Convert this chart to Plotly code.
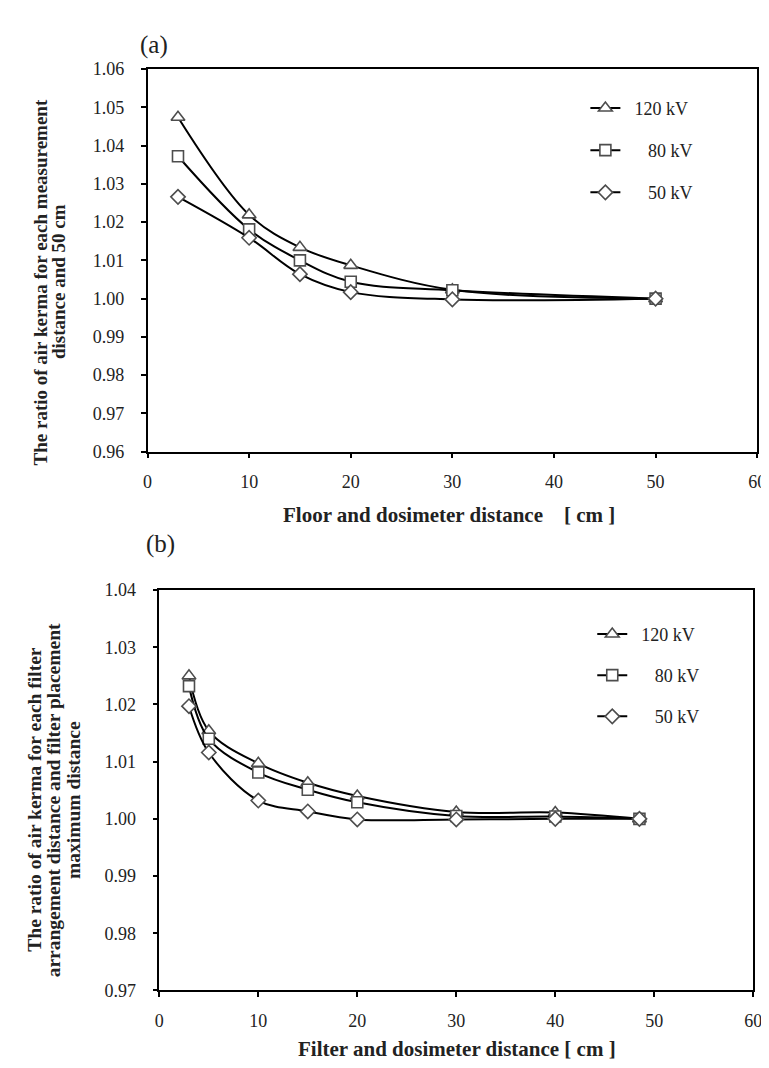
import plotly.graph_objects as go

# ---------------- data ----------------
# (a) floor-dosimeter distance
x_a = [3, 10, 15, 20, 30, 50]
a_120 = [1.0474, 1.0219, 1.0134, 1.0087, 1.0023, 1.0000]
a_80 = [1.0372, 1.0181, 1.0100, 1.0044, 1.0022, 1.0000]
a_50 = [1.0266, 1.0159, 1.0064, 1.0017, 0.9998, 1.0000]

# (b) filter-dosimeter distance
x_b = [3, 5, 10, 15, 20, 30, 40, 48.5]
b_120 = [1.0250, 1.0154, 1.0097, 1.0063, 1.0040, 1.0012, 1.0011, 1.0000]
b_80 = [1.0232, 1.0140, 1.0081, 1.0051, 1.0029, 1.0005, 1.0004, 1.0000]
b_50 = [1.0197, 1.0116, 1.0032, 1.0013, 0.9999, 0.9999, 1.0000, 1.0000]

series_names = ["120 kV", "80 kV", "50 kV"]
legend_labels = ["\u00a0\u00a0120 kV", "\u00a0\u00a0\u00a0\u00a0\u00a080 kV",
                 "\u00a0\u00a0\u00a0\u00a0\u00a050 kV"]
symbols = ["triangle-up", "square", "diamond"]
sizes = [12, 11, 11]

x_ticks = [0, 10, 20, 30, 40, 50, 60]
y_ticks_a = [0.96, 0.97, 0.98, 0.99, 1.00, 1.01, 1.02, 1.03, 1.04, 1.05, 1.06]
y_ticks_b = [0.97, 0.98, 0.99, 1.00, 1.01, 1.02, 1.03, 1.04]

W, H = 769, 1068
FONT = "Liberation Serif"
TXT = "#222222"


def px(x):
    return x / W


def py(y):
    return 1 - y / H


fig = go.Figure()

data_a = [a_120, a_80, a_50]
data_b = [b_120, b_80, b_50]

for i in range(3):
    fig.add_trace(go.Scatter(
        x=x_a, y=data_a[i], name=legend_labels[i], mode="lines+markers",
        line=dict(color="black", width=2, shape="spline", smoothing=1.0),
        marker=dict(symbol=symbols[i], size=sizes[i], color="white",
                    line=dict(color="#4d4d4d", width=1.6)),
        xaxis="x", yaxis="y", legend="legend" if i == 0 else f"legend{i+1}",
        showlegend=True,
    ))

for i in range(3):
    fig.add_trace(go.Scatter(
        x=x_b, y=data_b[i], name=legend_labels[i], mode="lines+markers",
        line=dict(color="black", width=2, shape="spline", smoothing=1.0),
        marker=dict(symbol=symbols[i], size=sizes[i], color="white",
                    line=dict(color="#4d4d4d", width=1.6)),
        xaxis="x2", yaxis="y2", legend=f"legend{i+4}",
        showlegend=True,
    ))

axis_common = dict(
    showline=True, linecolor="black", linewidth=1.5, mirror=True,
    ticks="outside", ticklen=5, tickwidth=1.5, tickcolor="black",
    showgrid=False, zeroline=False,
    tickfont=dict(family=FONT, size=18, color=TXT),
)

legend_common = dict(
    xanchor="left", yanchor="middle", bgcolor="rgba(0,0,0,0)",
    font=dict(family=FONT, size=18, color=TXT),
    borderwidth=0,
)

layout = dict(
    width=W, height=H,
    margin=dict(l=0, r=0, t=0, b=0),
    paper_bgcolor="white", plot_bgcolor="white",
    xaxis=dict(domain=[px(137), px(758)], range=[0, 60], tickvals=x_ticks,
               anchor="y", ticklabelstandoff=8, **axis_common),
    yaxis=dict(domain=[py(442), py(52)], range=[0.96, 1.06], tickvals=y_ticks_a,
               tickformat=".2f", anchor="x", ticklabelstandoff=13, **axis_common),
    xaxis2=dict(domain=[px(149), px(754)], range=[0, 60], tickvals=x_ticks,
                anchor="y2", ticklabelstandoff=8, **axis_common),
    yaxis2=dict(domain=[py(991), py(583)], range=[0.97, 1.04], tickvals=y_ticks_b,
                tickformat=".2f", anchor="x2", ticklabelstandoff=13, **axis_common),
)

top_rows = [92, 135, 178]
bot_rows = [628, 670, 712]
for i in range(3):
    key = "legend" if i == 0 else f"legend{i+1}"
    layout[key] = dict(x=px(583), y=py(top_rows[i]), **legend_common)
    layout[f"legend{i+4}"] = dict(x=px(590), y=py(bot_rows[i]), **legend_common)

fig.update_layout(**layout)


def ann(text, x, y, size, angle=0):
    return dict(text=text, x=px(x), y=py(y), xref="paper", yref="paper",
                xanchor="center", yanchor="middle", showarrow=False,
                textangle=angle, font=dict(family=FONT, size=size, color=TXT))


annotations = []
# panel labels
annotations.append(ann("(a)", 144, 28, 25))
annotations.append(ann("(b)", 150, 536, 25))

# x-axis titles
annotations.append(ann("<b>Floor and dosimeter distance \u00a0\u00a0 [ cm ]</b>", 444, 506, 21))
annotations.append(ann("<b>Filter and dosimeter distance [ cm ]</b>", 452, 1051, 21))

# y-axis titles (rotated), one annotation per line
ytitle_a = ["The ratio of air kerma for each measurement", "distance and 50 cm"]
ytitle_a_x = [28, 47]
for t, xx in zip(ytitle_a, ytitle_a_x):
    annotations.append(ann(f"<b>{t}</b>", xx, 269, 19, -90))

ytitle_b = ["The ratio of air kerma for each filter",
            "arrangement distance and filter placement",
            "maximum distance"]
ytitle_b_x = [21, 41, 61]
for t, xx in zip(ytitle_b, ytitle_b_x):
    annotations.append(ann(f"<b>{t}</b>", xx, 797, 19.5, -90))

fig.update_layout(annotations=annotations)

fig.write_html("out.html")
